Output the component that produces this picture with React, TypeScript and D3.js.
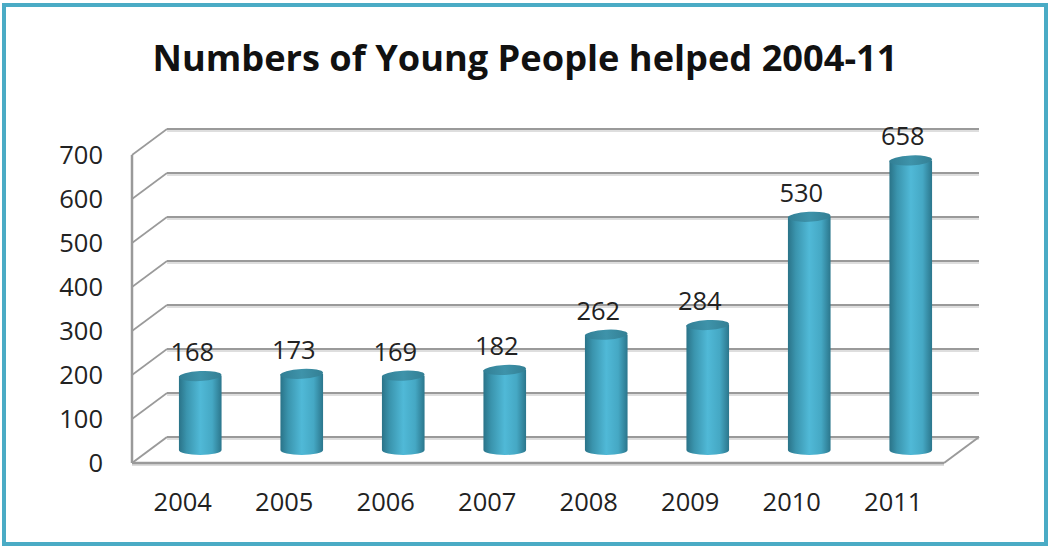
import React from "react";
import * as d3 from "d3";

const title = "Numbers of Young People helped 2004-11";
const years = ["2004", "2005", "2006", "2007", "2008", "2009", "2010", "2011"];
const helped = [168, 173, 169, 182, 262, 284, 530, 658];
const yTicks = [0, 100, 200, 300, 400, 500, 600, 700];

const W = 1050;
const H = 547;
// back wall geometry
const backLeft = 167;
const backRight = 979;
const backBase = 437;
const backTop = 129;
const depthX = -35;
const depthY = 26;

export default function App() {
  const y = d3.scaleLinear().domain([0, 700]).range([0, backBase - backTop]);
  const x = d3
    .scaleBand<string>()
    .domain(years)
    .range([backLeft + depthX / 2, backRight + depthX / 2])
    .paddingInner(0.58)
    .paddingOuter(0.29);
  const midBase = backBase + depthY / 2;
  const rx = x.bandwidth() / 2;
  const ry = 5;
  const font = "'Open Sans', 'DejaVu Sans', sans-serif";
  const fs = 25.5;

  return (
    <svg
      width={W}
      height={H}
      style={{ position: "absolute", left: 0, top: 0, background: "#fff" }}
    >
      <defs>
        <linearGradient id="cyl" x1="0" x2="1" y1="0" y2="0">
          <stop offset="0" stopColor="#2a7388" />
          <stop offset="0.18" stopColor="#3a94ad" />
          <stop offset="0.5" stopColor="#50b9d7" />
          <stop offset="0.78" stopColor="#45a8c4" />
          <stop offset="1" stopColor="#2b768c" />
        </linearGradient>
        <linearGradient id="cylTop" x1="0" x2="1" y1="0" y2="0">
          <stop offset="0" stopColor="#327f95" />
          <stop offset="0.5" stopColor="#3e93aa" />
          <stop offset="1" stopColor="#337f94" />
        </linearGradient>
      </defs>
      <rect x={0} y={0} width={W} height={H} fill="#fff" />
      <rect
        x={4}
        y={5}
        width={1042}
        height={539}
        fill="#fff"
        stroke="#4aabc5"
        strokeWidth={4}
      />
      <text
        x={525}
        y={71}
        textAnchor="middle"
        fontFamily={font}
        fontWeight="bold"
        fontSize={35}
        fill="#111"
        textLength={745}
        lengthAdjust="spacingAndGlyphs"
      >
        {title}
      </text>

      {/* gridlines */}
      {yTicks.map((t) => {
        const yb = backBase - y(t);
        const isBase = t === 0;
        return (
          <g key={t}>
            <line x1={backLeft} x2={backRight} y1={yb + 2} y2={yb + 2} stroke="#dedede" strokeWidth={2} />
            <line x1={backLeft} x2={backRight} y1={yb} y2={yb} stroke="#9a9a9a" strokeWidth={2} />
            <line
              x1={backLeft + depthX}
              y1={yb + depthY}
              x2={backLeft}
              y2={yb}
              stroke="#9a9a9a"
              strokeWidth={isBase ? 2 : 1.6}
            />
          </g>
        );
      })}
      {/* floor front edge */}
      <line
        x1={backLeft + depthX}
        x2={backRight + depthX}
        y1={backBase + depthY + 2}
        y2={backBase + depthY + 2}
        stroke="#dcdcdc"
        strokeWidth={2}
      />
      <line
        x1={backLeft + depthX}
        x2={backRight + depthX}
        y1={backBase + depthY}
        y2={backBase + depthY}
        stroke="#9a9a9a"
        strokeWidth={2.5}
      />
      <line
        x1={backRight + depthX}
        y1={backBase + depthY}
        x2={backRight}
        y2={backBase}
        stroke="#9a9a9a"
        strokeWidth={2}
      />
      {/* front vertical axis */}
      <line
        x1={backLeft + depthX}
        x2={backLeft + depthX}
        y1={backTop + depthY}
        y2={backBase + depthY}
        stroke="#9a9a9a"
        strokeWidth={2.5}
      />

      {/* y tick labels */}
      {yTicks.map((t) => (
        <text
          key={t}
          x={103}
          y={backBase + depthY - y(t)}
          dy="0.36em"
          textAnchor="end"
          fontFamily={font}
          fontSize={fs}
          fill="#222"
        >
          {t}
        </text>
      ))}

      {/* cylinders */}
      {years.map((yr, i) => {
        const cx = (x(yr) as number) + rx;
        const top = midBase - y(helped[i]);
        return (
          <g key={yr}>
            <path
              d={`M${cx - rx},${top} L${cx - rx},${midBase} A${rx},${ry} 0 0 0 ${cx + rx},${midBase} L${cx + rx},${top} Z`}
              fill="url(#cyl)"
            />
            <ellipse
              cx={cx}
              cy={top}
              rx={rx}
              ry={ry}
              fill="url(#cylTop)"
              transform={`rotate(-3 ${cx} ${top})`}
            />
            <text
              x={cx - 8}
              y={top - 15}
              textAnchor="middle"
              fontFamily={font}
              fontSize={fs}
              fill="#222"
            >
              {helped[i]}
            </text>
            <text
              x={cx + depthX / 2}
              y={502}
              dy="0.36em"
              textAnchor="middle"
              fontFamily={font}
              fontSize={fs}
              fill="#222"
            >
              {yr}
            </text>
          </g>
        );
      })}
    </svg>
  );
}
